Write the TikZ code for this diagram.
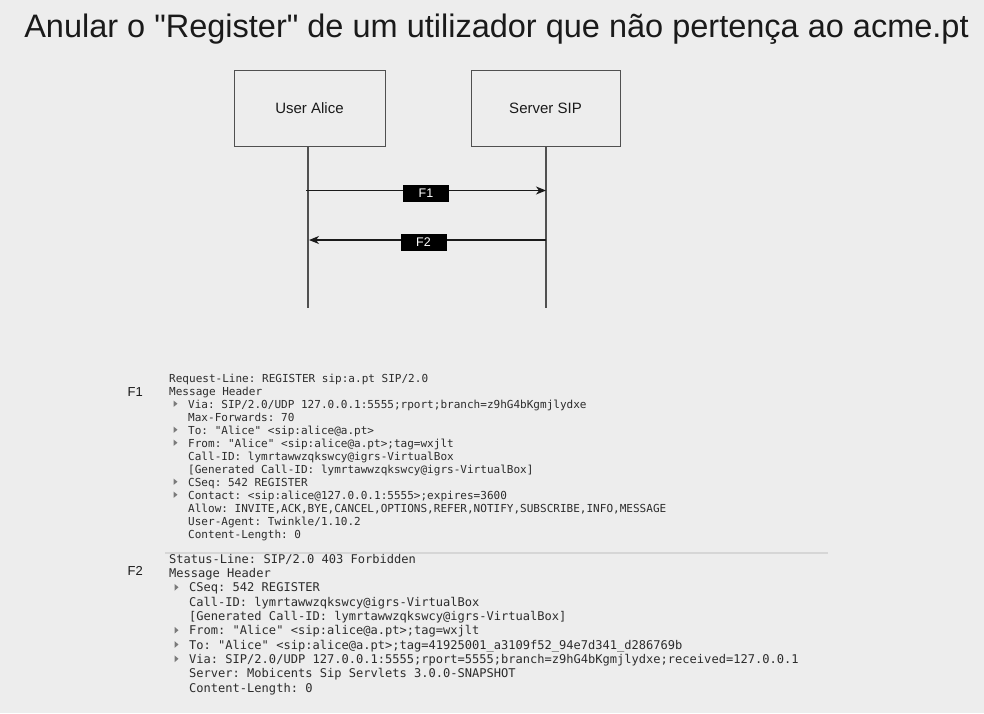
\documentclass[tikz,border=0pt]{standalone}
\usepackage{fontspec}
\setmainfont{Liberation Sans}
\newfontfamily\titlefont{Liberation Sans}
\newfontfamily\sipmono{DejaVu Sans Mono}
\usetikzlibrary{arrows.meta}
\definecolor{bgc}{HTML}{EDEDED}
\definecolor{ttl}{HTML}{1A1A1A}
\definecolor{boxc}{HTML}{505050}
\definecolor{txtc}{HTML}{2C2C2C}
\definecolor{tric}{HTML}{7A7A7A}
\definecolor{sepc}{HTML}{D6D6D6}
\tikzset{
  actor/.style={draw=boxc, line width=1pt, minimum width=151pt, minimum height=76pt, inner sep=0pt, font=\titlefont\fontsize{15}{18}\selectfont, text=ttl},
  lifeline/.style={draw=boxc, line width=1.1pt},
  msg/.style={draw=ttl, line width=1.1pt, -{Stealth[length=10pt,width=8pt,inset=3pt]}},
  tag/.style={fill=black, text=white, minimum width=46pt, minimum height=17pt, inner sep=0pt, font=\titlefont\fontsize{12.5}{14}\selectfont},
  side/.style={anchor=base west, inner sep=0pt, font=\titlefont\fontsize{13}{15}\selectfont, text=ttl},
  monoA/.style={anchor=base west, inner sep=0pt, text=txtc, font=\sipmono\frenchspacing\fontsize{11.03}{13}\selectfont},
  monoB/.style={anchor=base west, inner sep=0pt, text=txtc, font=\sipmono\frenchspacing\fontsize{12.05}{14}\selectfont},
  tri/.style={fill=tric}
}
\begin{document}
\frenchspacing
\begin{tikzpicture}[x=1pt,y=-1pt]
\fill[bgc] (0,0) rectangle (984,713);
\useasboundingbox (0,0) rectangle (984,713);

% title
\node[anchor=base, inner sep=0pt, text=ttl, font=\titlefont\fontsize{32.5}{38}\selectfont] (title) at (496.5,37.7) {Anular o "Register" de um utilizador que não pertença ao acme.pt};

% actors
\node[actor] (alice) at (309.5,108) {User Alice};
\node[actor, minimum width=149pt] (server) at (545.5,108) {Server SIP};
\coordinate (aliceEnd) at (308,308);
\coordinate (serverEnd) at (546,308);
\draw[lifeline] (alice.south -| aliceEnd) -- (aliceEnd);
\draw[lifeline] (server.south -| serverEnd) -- (serverEnd);

% messages
\coordinate (f1s) at (306,190.5);
\coordinate (f1e) at (546,190.5);
\coordinate (f2s) at (546,240);
\coordinate (f2e) at (309,240);
\draw[msg] (f1s) -- (f1e);
\draw[msg] (f2s) -- (f2e);
\node[tag] (t1) at (426,193.5) {F1};
\node[tag] (t2) at (423.5,242) {F2};

% side labels
\node[side] (l1) at (127.5,396) {F1};
\node[side] (l2) at (127.5,575) {F2};

% F1 block
\node[monoA] (a0) at (169,382) {Request-Line: REGISTER sip:a.pt SIP/2.0};
\node[monoA] (a1) at (169,395) {Message Header};
\node[monoA] (a2) at (188,408) {Via: SIP/2.0/UDP 127.0.0.1:5555;rport;branch=z9hG4bKgmjlydxe};
\node[monoA] (a3) at (188,421) {Max-Forwards: 70};
\node[monoA] (a4) at (188,434) {To: "Alice" <sip:alice@a.pt>};
\node[monoA] (a5) at (188,447) {From: "Alice" <sip:alice@a.pt>;tag=wxjlt};
\node[monoA] (a6) at (188,460) {Call-ID: lymrtawwzqkswcy@igrs-VirtualBox};
\node[monoA] (a7) at (188,473) {[Generated Call-ID: lymrtawwzqkswcy@igrs-VirtualBox]};
\node[monoA] (a8) at (188,486) {CSeq: 542 REGISTER};
\node[monoA] (a9) at (188,499) {Contact: <sip:alice@127.0.0.1:5555>;expires=3600};
\node[monoA] (a10) at (188,512) {Allow: INVITE,ACK,BYE,CANCEL,OPTIONS,REFER,NOTIFY,SUBSCRIBE,INFO,MESSAGE};
\node[monoA] (a11) at (188,525) {User-Agent: Twinkle/1.10.2};
\node[monoA] (a12) at (188,538) {Content-Length: 0};
\foreach \yy in {408,434,447,486,499}{
  \fill[tri] (173.5,\yy-7.5) -- ++(4,3.2) -- ++(-4,3.2) -- cycle;
}

% separator
\draw[sepc, line width=1.5pt] (165,553) -- (828,553);

% F2 block
\node[monoB] (b0) at (169,563.3) {Status-Line: SIP/2.0 403 Forbidden};
\node[monoB] (b1) at (169,577.6) {Message Header};
\node[monoB] (b2) at (189,591.9) {CSeq: 542 REGISTER};
\node[monoB] (b3) at (189,606.2) {Call-ID: lymrtawwzqkswcy@igrs-VirtualBox};
\node[monoB] (b4) at (189,620.5) {[Generated Call-ID: lymrtawwzqkswcy@igrs-VirtualBox]};
\node[monoB] (b5) at (189,634.8) {From: "Alice" <sip:alice@a.pt>;tag=wxjlt};
\node[monoB] (b6) at (189,649.1) {To: "Alice" <sip:alice@a.pt>;tag=41925001\_a3109f52\_94e7d341\_d286769b};
\node[monoB] (b7) at (189,663.4) {Via: SIP/2.0/UDP 127.0.0.1:5555;rport=5555;branch=z9hG4bKgmjlydxe;received=127.0.0.1};
\node[monoB] (b8) at (189,677.7) {Server: Mobicents Sip Servlets 3.0.0-SNAPSHOT};
\node[monoB] (b9) at (189,692) {Content-Length: 0};
\foreach \yy in {591.9,634.8,649.1,663.4}{
  \fill[tri] (174.5,\yy-8) -- ++(4,3.4) -- ++(-4,3.4) -- cycle;
}
\end{tikzpicture}
\end{document}
